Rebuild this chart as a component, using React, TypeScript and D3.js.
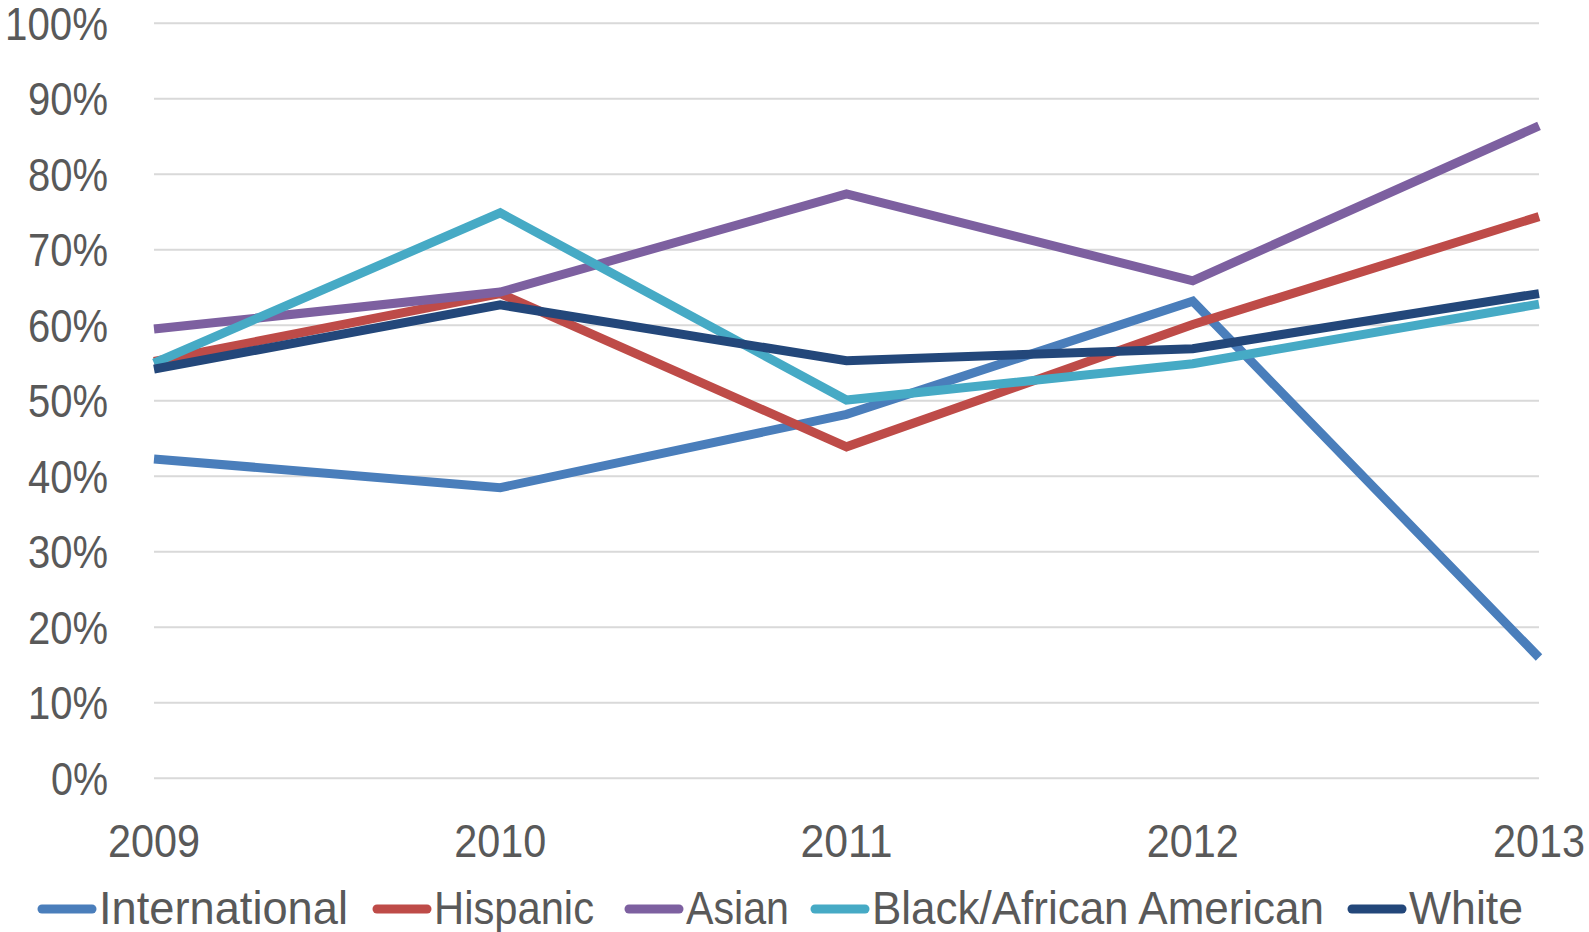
import { scaleLinear, scalePoint, line } from 'd3'

const years = ['2009', '2010', '2011', '2012', '2013']
const yTicks = [0, 10, 20, 30, 40, 50, 60, 70, 80, 90, 100]

const international = [42.3, 38.5, 48.2, 63.2, 16.0]
const hispanic = [55.2, 64.2, 43.9, 60.1, 74.4]
const asian = [59.5, 64.4, 77.4, 65.9, 86.4]
const blackAfricanAmerican = [55.0, 74.9, 50.1, 54.9, 62.8]
const white = [54.2, 62.7, 55.3, 56.9, 64.2]

const seriesNames = ['International', 'Hispanic', 'Asian', 'Black/African American', 'White']
const seriesColors = ['#4a7ebb', '#be4b48', '#7d60a0', '#46aac5', '#23477a']

const W = 1589
const H = 932
const FONT = '"Liberation Sans", Arial, sans-serif'
const TEXT = '#595959'
const FS = 46

// rough Calibri-like widths so the labels take the same room as the original
const tickWidth = (s: string) => (s.length - 1) * 23 + 34
const legendX = [38, 373, 625, 811, 1348]
const legendWidth = [249, 160, 103, 452, 114]

export default function App() {
  const series = [international, hispanic, asian, blackAfricanAmerican, white]
  const x = scalePoint<string>().domain(years).range([154, 1539])
  const y = scaleLinear().domain([0, 100]).range([778.3, 23.3])

  const path = line<number>()
    .x((_, i) => x(years[i]) ?? 0)
    .y((d) => y(d))

  return (
    <svg
      width={W}
      height={H}
      style={{ position: 'absolute', left: 0, top: 0, background: '#fff' }}
      fontFamily={FONT}
    >
      <rect width={W} height={H} fill="#fff" />
      {yTicks.map((t) => {
        const label = `${t}%`
        const w = tickWidth(label)
        return (
          <g key={t}>
            <line x1={154} x2={1539} y1={y(t)} y2={y(t)} stroke="#d9d9d9" strokeWidth={2} />
            <text
              x={108 - w}
              y={y(t) + 16.5}
              fontSize={FS}
              fill={TEXT}
              textLength={w}
              lengthAdjust="spacingAndGlyphs"
            >
              {label}
            </text>
          </g>
        )
      })}
      {years.map((yr) => (
        <text
          key={yr}
          x={(x(yr) ?? 0) - 46}
          y={857}
          fontSize={FS}
          fill={TEXT}
          textLength={92}
          lengthAdjust="spacingAndGlyphs"
        >
          {yr}
        </text>
      ))}
      {series.map((s, i) => (
        <path
          key={seriesNames[i]}
          d={path(s) ?? ''}
          fill="none"
          stroke={seriesColors[i]}
          strokeWidth={9}
          strokeLinejoin="miter"
        />
      ))}
      {seriesNames.map((name, i) => (
        <g key={name} transform={`translate(${legendX[i]},0)`}>
          <line x1={4} x2={54} y1={909} y2={909} stroke={seriesColors[i]} strokeWidth={9} strokeLinecap="round" />
          <text
            x={61}
            y={924}
            fontSize={FS}
            fill={TEXT}
            textLength={legendWidth[i]}
            lengthAdjust="spacingAndGlyphs"
          >
            {name}
          </text>
        </g>
      ))}
    </svg>
  )
}
